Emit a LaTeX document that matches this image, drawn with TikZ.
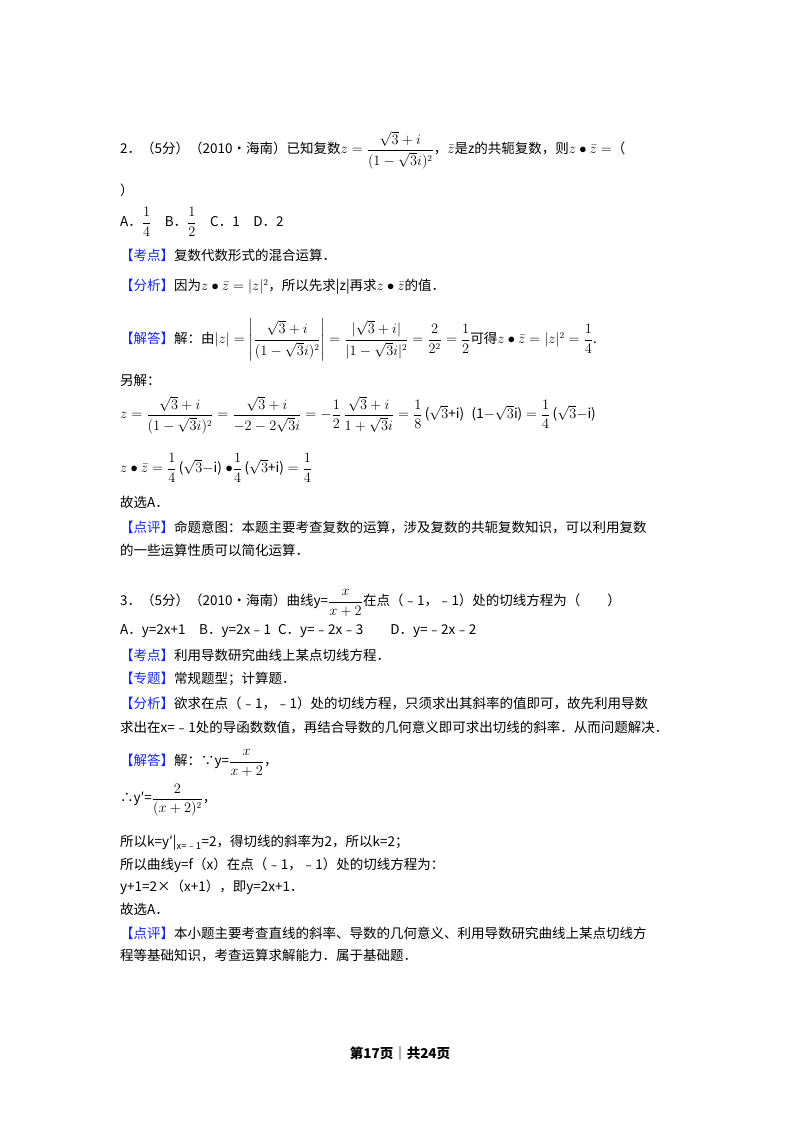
\documentclass[tikz,border=0pt]{standalone}
\usepackage{fontspec}
\usepackage{amsmath}
\setmainfont{Noto Sans CJK SC}
\definecolor{tagblue}{RGB}{20,40,230}
\newcommand\tagb[1]{\textcolor{tagblue}{【#1】}}
\newcommand\zb{\bar{z}}
\begin{document}
\begin{tikzpicture}[x=1pt,y=-1pt,
  txt/.style={anchor=west,inner sep=0pt,font=\fontsize{13.5}{16}\selectfont}]
\useasboundingbox[fill=white] (0,0) rectangle (800,1132);
\node[txt] (l1) at (120,150) {2．（5分）（2010•海南）已知复数$z=\dfrac{\sqrt3+i}{(1-\sqrt3 i)^{2}}$，$\zb$是z的共轭复数，则$z\bullet\zb=$（};
\node[txt] (l2) at (120,190) {）};
\node[txt] (l3) at (120,222) {A．$\dfrac14$\quad B．$\dfrac12$\quad C．1\quad D．2};
\node[txt] (l4) at (120,255) {\tagb{考点}复数代数形式的混合运算．};
\node[txt] (l5) at (120,287) {\tagb{分析}因为$z\bullet\zb=|z|^2$，所以先求|z|再求$z\bullet\zb$的值．};
\node[txt] (l6) at (120,340) {\tagb{解答}解：由$|z|=\left|\dfrac{\sqrt3+i}{(1-\sqrt3 i)^{2}}\right|=\dfrac{|\sqrt3+i|}{|1-\sqrt3 i|^{2}}=\dfrac{2}{2^2}=\dfrac12$可得$z\bullet\zb=|z|^2=\dfrac14$.};
\node[txt] (l7) at (120,380) {另解：};
\node[txt] (l8) at (120,415) {$z=\dfrac{\sqrt3+i}{(1-\sqrt3 i)^{2}}=\dfrac{\sqrt3+i}{-2-2\sqrt3 i}=-\dfrac12\,\dfrac{\sqrt3+i}{1+\sqrt3 i}=\dfrac18$\,($\sqrt3$+i)\;\;(1$-\sqrt3$i)\;$=\dfrac14$\,($\sqrt3-$i)};
\node[txt] (l9) at (120,468) {$z\bullet\zb=\dfrac14$\,($\sqrt3-$i)\;$\bullet\dfrac14$\,($\sqrt3$+i)\;$=\dfrac14$};
\node[txt] (l10) at (120,502) {故选A．};
\node[txt] (l11) at (120,527) {\tagb{点评}命题意图：本题主要考查复数的运算，涉及复数的共轭复数知识，可以利用复数};
\node[txt] (l12) at (120,550) {的一些运算性质可以简化运算．};
\node[txt] (m1) at (120,603) {3．（5分）（2010•海南）曲线y=$\dfrac{x}{x+2}$在点（﹣1，﹣1）处的切线方程为（\qquad）};
\node[txt] (m2) at (120,631) {A．y=2x+1\quad B．y=2x﹣1\; C．y=﹣2x﹣3\qquad D．y=﹣2x﹣2};
\node[txt] (m3) at (120,655) {\tagb{考点}利用导数研究曲线上某点切线方程．};
\node[txt] (m4) at (120,679) {\tagb{专题}常规题型；计算题．};
\node[txt] (m5) at (120,703) {\tagb{分析}欲求在点（﹣1，﹣1）处的切线方程，只须求出其斜率的值即可，故先利用导数};
\node[txt] (m6) at (120,727) {求出在x=﹣1处的导函数数值，再结合导数的几何意义即可求出切线的斜率．从而问题解决．};
\node[txt] (m7) at (120,763) {\tagb{解答}解：∵y=$\dfrac{x}{x+2}$，};
\node[txt] (m8) at (120,800) {∴y′=$\dfrac{2}{(x+2)^{2}}$，};
\node[txt] (m9) at (120,843) {所以k=y′|\textsubscript{x=﹣1}=2，得切线的斜率为2，所以k=2；};
\node[txt] (m10) at (120,865) {所以曲线y=f（x）在点（﹣1，﹣1）处的切线方程为：};
\node[txt] (m11) at (120,887) {y+1=2×（x+1），即y=2x+1．};
\node[txt] (m12) at (120,909) {故选A．};
\node[txt] (m13) at (120,933) {\tagb{点评}本小题主要考查直线的斜率、导数的几何意义、利用导数研究曲线上某点切线方};
\node[txt] (m14) at (120,956) {程等基础知识，考查运算求解能力．属于基础题．};
\node[txt,anchor=center,font=\fontsize{13.5}{16}\selectfont\bfseries] (foot) at (400,1053) {第17页｜共24页};
\end{tikzpicture}
\end{document}
